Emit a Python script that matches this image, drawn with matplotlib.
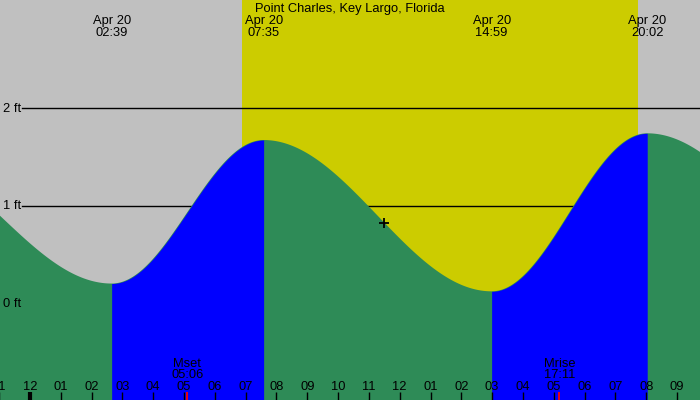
import numpy as np
import matplotlib
matplotlib.use("Agg")
import matplotlib.pyplot as plt
import matplotlib.transforms as mtransforms

plt.rcParams['font.family'] = ['Liberation Sans', 'DejaVu Sans']

# Tide extremes (hours since midnight Apr 20, height in ft)
tide_times = [-4.45, 2.65, 7.583, 14.983, 20.033, 27.25]
tide_heights = [1.55, 0.2, 1.675, 0.12, 1.744, 0.3]
# labelled extremes shown along the top
label_times = [2.65, 7.583, 14.983, 20.033]
label_texts = ["02:39", "07:35", "14:59", "20:02"]
label_date = "Apr 20"

# daylight span (hours)
sun_up = 6.88
sun_down = 19.72

# moon events
moon_times = [5.1, 17.183]
moon_names = ["Mset", "Mrise"]
moon_texts = ["05:06", "17:11"]

now_hour = 11.5
title = "Point Charles, Key Largo, Florida"

ft_levels = [0, 1, 2]
hours = list(range(-1, 22))

# colours
c_night = "#c0c0c0"
c_day = "#cccc00"
c_fall = "#2e8b57"
c_rise = "#0000ff"

fs = 9.3

# pixel mapping: midnight at x=30 px, 30.81 px/hour, 0 ft at y=303 px, 97.3 px/ft
px_h = 30.81
x0 = -30.0 / px_h
x1 = (700 - 30.0) / px_h
px_ft = 97.3
y0 = -(400 - 303) / px_ft
y1 = 303 / px_ft


def tide_level(t):
    t = np.asarray(t, dtype=float)
    out = np.zeros_like(t)
    for i in range(len(tide_times) - 1):
        ta, tb = tide_times[i], tide_times[i + 1]
        ha, hb = tide_heights[i], tide_heights[i + 1]
        m = (t >= ta) & (t <= tb)
        f = (t[m] - ta) / (tb - ta)
        out[m] = ha + (hb - ha) * (1 - np.cos(np.pi * f)) / 2
    return out


fig = plt.figure(figsize=(7, 4), dpi=100)
ax = fig.add_axes([0, 0, 1, 1])
ax.set_xlim(x0, x1)
ax.set_ylim(y0, y1)
ax.axis('off')
fig.patch.set_facecolor(c_night)

# daylight
ax.axvspan(sun_up, sun_down, color=c_day, lw=0, zorder=0)

# level lines
for lv in ft_levels:
    ax.axhline(lv, xmin=22 / 700, xmax=1, color="black", lw=1, zorder=1)

# water: green everywhere first, blue over the rising stretches
tt = np.linspace(tide_times[0], tide_times[-1], 3000)
ax.fill_between(tt, y0, tide_level(tt), color=c_fall, lw=0, zorder=2)
for i in range(len(tide_times) - 1):
    if tide_heights[i + 1] > tide_heights[i]:
        t = np.linspace(tide_times[i], tide_times[i + 1], 400)
        ax.fill_between(t, y0, tide_level(t), color=c_rise, lw=0, zorder=2.5)

# current time marker
ax.plot([now_hour], tide_level([now_hour]), marker='+', color='black',
        ms=7, mew=1.3, zorder=5)

tx = mtransforms.blended_transform_factory(ax.transData, ax.transAxes)
ty = mtransforms.blended_transform_factory(ax.transAxes, ax.transData)

# level labels
for lv in ft_levels:
    ax.text(2.7 / 700, lv - 3.7 / px_ft, "%d ft" % lv, transform=ty,
            ha='left', va='baseline', fontsize=fs, zorder=4)

# title and extreme labels
ax.text(0.5, 0.971, title, transform=ax.transAxes, ha='center',
        va='baseline', fontsize=fs, zorder=4)
for t, s in zip(label_times, label_texts):
    ax.text(t, 0.94, label_date, transform=tx, ha='center', va='baseline',
            fontsize=fs, zorder=4)
    ax.text(t, 0.91, s, transform=tx, ha='center', va='baseline',
            fontsize=fs, zorder=4)

# hour ticks and labels
for hr in hours:
    lw = 3 if hr % 24 == 0 else 1
    ax.plot([hr, hr], [0, 0.02], transform=tx, color='black', lw=lw,
            zorder=4, solid_capstyle='butt')
    h12 = hr % 12
    if h12 == 0:
        h12 = 12
    ax.text(hr, 0.025, "%02d" % h12, transform=tx, ha='center',
            va='baseline', fontsize=fs, zorder=4)

# moon events
for t, n, s in zip(moon_times, moon_names, moon_texts):
    ax.plot([t, t], [0, 0.02], transform=tx, color='red', lw=1.3,
            zorder=4, solid_capstyle='butt')
    ax.text(t, 0.0833, n, transform=tx, ha='center', va='baseline',
            fontsize=fs, zorder=4)
    ax.text(t, 0.0558, s, transform=tx, ha='center', va='baseline',
            fontsize=fs, zorder=4)

fig.savefig("out.png", dpi=100, facecolor=c_night)
